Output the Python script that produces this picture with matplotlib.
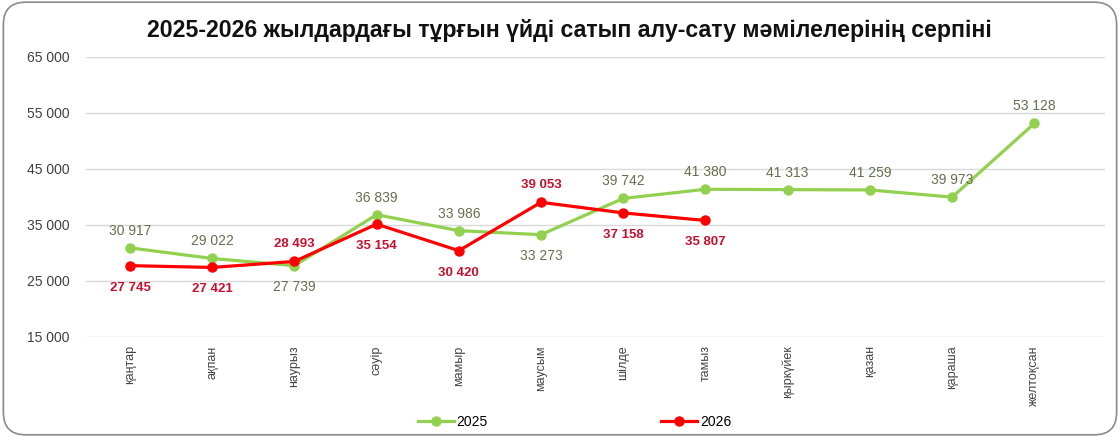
import matplotlib
matplotlib.use("Agg")
import matplotlib.pyplot as plt
from matplotlib.patches import FancyBboxPatch

plt.rcParams['font.family'] = ['Liberation Sans', 'DejaVu Sans']

months = ["қаңтар", "ақпан", "наурыз", "сәуір", "мамыр", "маусым",
          "шілде", "тамыз", "қыркүйек", "қазан", "қараша", "желтоқсан"]
sales_2025 = [30917, 29022, 27739, 36839, 33986, 33273,
              39742, 41380, 41313, 41259, 39973, 53128]
sales_2026 = [27745, 27421, 28493, 35154, 30420, 39053, 37158, 35807]
# label above (1) or below (-1) the point
pos_2025 = [1, 1, -1, 1, 1, -1, 1, 1, 1, 1, 1, 1]
pos_2026 = [-1, -1, 1, -1, -1, 1, -1, -1]
yticks = [15000, 25000, 35000, 45000, 55000, 65000]

green = "#92D050"
red = "#FF0000"


def fmt(v):
    return f"{v:,}".replace(",", " ")


fig = plt.figure(figsize=(11.2, 4.37), dpi=100)
ax = fig.add_axes([86 / 1120, 1 - 337 / 437, 1019 / 1120, 280 / 437])

x25 = list(range(len(sales_2025)))
x26 = list(range(len(sales_2026)))
ax.plot(x25, sales_2025, color=green, lw=2.3, marker="o", ms=6.5, label="2025", zorder=3)
ax.plot(x26, sales_2026, color=red, lw=2.3, marker="o", ms=6.5, label="2026", zorder=4)

for x, v, p in zip(x25, sales_2025, pos_2025):
    ax.annotate(fmt(v), (x, v), xytext=(0, 17 if p > 0 else -21),
                textcoords="offset pixels", ha="center", va="center",
                fontsize=10, color="#66704F")
for x, v, p in zip(x26, sales_2026, pos_2026):
    ax.annotate(fmt(v), (x, v), xytext=(0, 17 if p > 0 else -22),
                textcoords="offset pixels", ha="center", va="center",
                fontsize=9.5, color="#C8102E", fontweight="bold")

ax.set_ylim(15000, 65000)
ax.set_xlim(-0.535, 11.86)
ax.set_yticks(yticks)
ax.set_yticklabels([fmt(t) for t in yticks], fontsize=10, color="#404040")
ax.set_xticks(x25)
ax.set_xticklabels(months, rotation=90, fontsize=9, color="#444444", va="top")
ax.tick_params(axis="x", length=0, pad=6)
ax.tick_params(axis="y", length=0, pad=12)
ax.grid(axis="y", color="#D9D9D9", lw=1)
ax.set_axisbelow(True)
for s in ax.spines.values():
    s.set_visible(False)

fig.text(0.508, 0.93, "2025-2026 жылдардағы тұрғын үйді сатып алу-сату мәмілелерінің серпіні",
         ha="center", va="center", fontsize=16.7, fontweight="bold", color="#111111")

fig.legend(loc="center", bbox_to_anchor=(0.513, 0.035), ncol=2, frameon=False,
           fontsize=10, handlelength=2.6, columnspacing=12.5, handletextpad=0.2)

border = FancyBboxPatch((0.003, 0.005), 0.994, 0.99, boxstyle="round,pad=0,rounding_size=0.02",
                        transform=fig.transFigure, fill=False, ec="#8A8A8A", lw=1.2,
                        mutation_aspect=1120 / 437)
fig.patches.append(border)

fig.savefig("out.png", dpi=100)
